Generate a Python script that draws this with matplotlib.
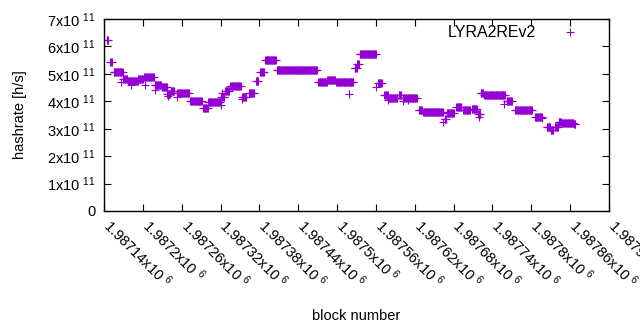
import numpy as np
import matplotlib
matplotlib.use("Agg")
import matplotlib.pyplot as plt
import matplotlib.transforms as mtransforms
from matplotlib.ticker import FixedLocator, FuncFormatter

plt.rcParams['font.family'] = ['Liberation Sans', 'DejaVu Sans']
plt.rcParams['mathtext.fontset'] = 'custom'
plt.rcParams['mathtext.rm'] = 'Liberation Sans'
plt.rcParams['mathtext.it'] = 'Liberation Sans'

# block offsets are relative to this block number
base_block = 1987140

# runs of blocks sharing the same hashrate (start offset, end offset, value in 1e11 h/s)
seg_start = [4, 10, 15, 30, 37, 53, 62, 78, 89, 98, 103, 113, 133, 153, 161,
             181, 187, 195, 213, 224, 235, 241, 249, 267, 331, 345, 359, 387,
             391, 395, 423, 433, 439, 455, 462, 486, 493, 526, 530, 544, 555,
             568, 578, 582, 587, 622, 635, 666, 684, 690, 696, 702, 707, 726]
seg_end = [6, 12, 29, 36, 52, 60, 77, 88, 97, 102, 108, 131, 151, 160, 179,
           186, 193, 211, 220, 232, 238, 247, 265, 329, 344, 357, 385, 390,
           394, 420, 429, 438, 453, 459, 483, 491, 524, 528, 540, 552, 565,
           576, 581, 586, 619, 630, 661, 676, 689, 694, 701, 706, 725, 728]
seg_value = [6.22, 5.42, 5.05, 4.80, 4.74, 4.82, 4.87, 4.61, 4.53, 4.25, 4.39,
             4.29, 4.01, 3.74, 3.96, 4.17, 4.39, 4.56, 4.17, 4.31, 4.75, 5.06,
             5.50, 5.13, 4.70, 4.78, 4.70, 5.20, 5.35, 5.71, 4.65, 4.23, 4.11,
             4.23, 4.11, 3.70, 3.60, 3.36, 3.56, 3.78, 3.68, 3.71, 3.53, 4.31,
             4.23, 4.00, 3.68, 3.42, 3.06, 2.95, 3.07, 3.26, 3.20, 3.16]

# single blocks off the runs
out_block = [27, 41, 63, 78, 99, 112, 180, 182, 213, 236, 379, 420, 439, 462,
             470, 524, 579, 618, 677]
out_value = [4.69, 4.61, 4.59, 4.41, 4.19, 4.17, 3.86, 4.29, 4.08, 4.74, 4.25,
             4.53, 4.05, 4.01, 4.05, 3.26, 3.44, 3.90, 3.38]

blocks, rates = [], []
for s, e, v in zip(seg_start, seg_end, seg_value):
    for b in range(s, e + 1):
        blocks.append(base_block + b)
        rates.append(v * 1e11)
for b, v in zip(out_block, out_value):
    blocks.append(base_block + b)
    rates.append(v * 1e11)

fig = plt.figure(figsize=(6.4, 3.3), dpi=100)
ax = fig.add_axes([104 / 640, 1 - 211 / 330, 505 / 640, 192 / 330])

ax.plot(blocks, rates, linestyle='none', marker='+', color='#9400d3',
        markersize=6, markeredgewidth=0.8, label='LYRA2REv2')

ax.set_xlim(1987140, 1987920)
ax.set_ylim(0, 7e11)

xticks = np.arange(1987140, 1987921, 60)
ax.xaxis.set_major_locator(FixedLocator(xticks))
ax.xaxis.set_major_formatter(FuncFormatter(lambda v, p: f"{v / 1e6:g}x10 $^{{6}}$"))
ax.yaxis.set_major_locator(FixedLocator(np.arange(0, 7.01e11, 1e11)))
ax.yaxis.set_major_formatter(FuncFormatter(
    lambda v, p: "0" if v == 0 else f"{v / 1e11:.0f}x10 $^{{11}}$"))

ax.tick_params(direction='in', length=5, width=0.8, top=True, right=True,
               labelsize=10.5, colors='black')
ax.tick_params(axis='y', pad=6)

# gnuplot puts the rotated labels just right of each tick
shift = mtransforms.ScaledTranslation(0.09, 0, fig.dpi_scale_trans)
for lbl in ax.get_xticklabels():
    lbl.set_rotation(-45)
    lbl.set_ha('left')
    lbl.set_va('top')
    lbl.set_rotation_mode('anchor')
    lbl.set_transform(lbl.get_transform() + shift)

for spine in ax.spines.values():
    spine.set_linewidth(1)

ax.set_ylabel('hashrate [h/s]', fontsize=10.5, labelpad=14)
ax.set_xlabel('block number', fontsize=10.5)
ax.xaxis.set_label_coords(0.5, -0.51)

ax.legend(loc='upper right', frameon=False, markerfirst=False, fontsize=11.5,
          handlelength=1.0, handletextpad=1.6, borderaxespad=0.3,
          bbox_to_anchor=(0.96, 1.025))

fig.savefig('out.png', dpi=100)
